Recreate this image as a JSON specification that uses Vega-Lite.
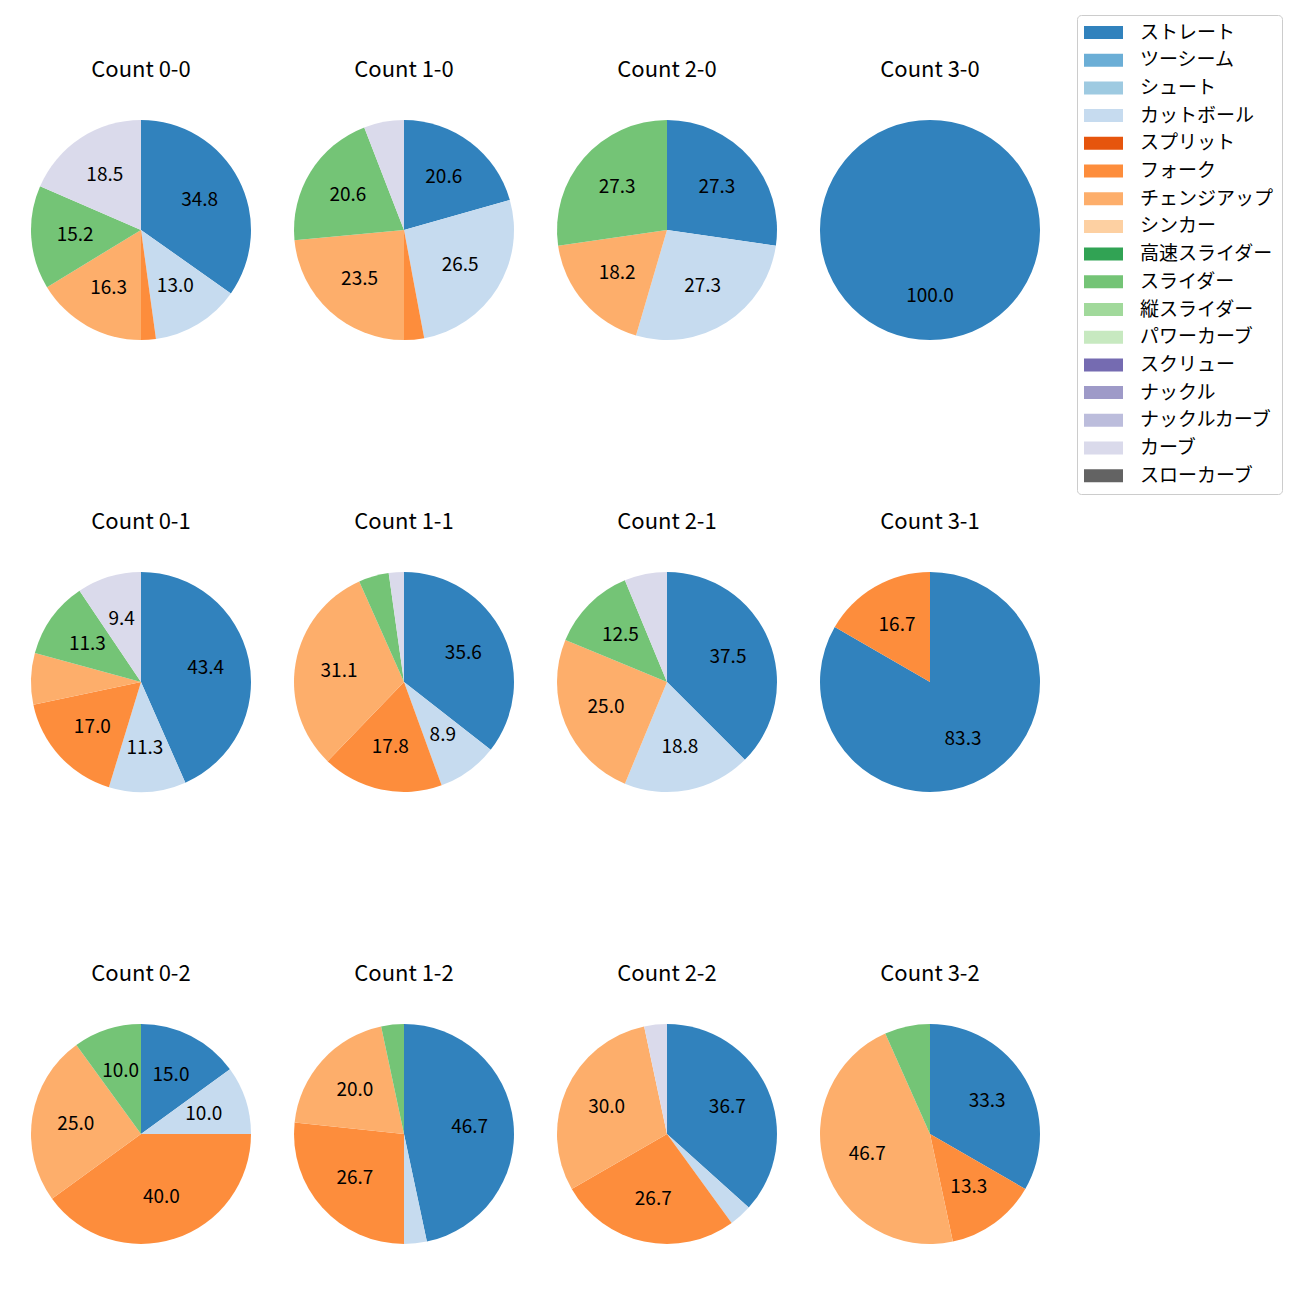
{
  "$schema": "https://vega.github.io/schema/vega-lite/v6.json",
  "padding": {"left": 31, "top": 14, "right": 5, "bottom": 5},
  "background": "white",
  "config": {"view": {"stroke": null}, "font": "Noto Sans CJK JP"},
  "data": {"values": [
    {"count": "Count 0-0", "pitch": "ストレート", "ord": 0, "n": 32, "pct": 34.8},
    {"count": "Count 0-0", "pitch": "カットボール", "ord": 3, "n": 12, "pct": 13.0},
    {"count": "Count 0-0", "pitch": "フォーク", "ord": 5, "n": 2, "pct": 2.2},
    {"count": "Count 0-0", "pitch": "チェンジアップ", "ord": 6, "n": 15, "pct": 16.3},
    {"count": "Count 0-0", "pitch": "スライダー", "ord": 9, "n": 14, "pct": 15.2},
    {"count": "Count 0-0", "pitch": "カーブ", "ord": 15, "n": 17, "pct": 18.5},
    {"count": "Count 1-0", "pitch": "ストレート", "ord": 0, "n": 7, "pct": 20.6},
    {"count": "Count 1-0", "pitch": "カットボール", "ord": 3, "n": 9, "pct": 26.5},
    {"count": "Count 1-0", "pitch": "フォーク", "ord": 5, "n": 1, "pct": 2.9},
    {"count": "Count 1-0", "pitch": "チェンジアップ", "ord": 6, "n": 8, "pct": 23.5},
    {"count": "Count 1-0", "pitch": "スライダー", "ord": 9, "n": 7, "pct": 20.6},
    {"count": "Count 1-0", "pitch": "カーブ", "ord": 15, "n": 2, "pct": 5.9},
    {"count": "Count 2-0", "pitch": "ストレート", "ord": 0, "n": 3, "pct": 27.3},
    {"count": "Count 2-0", "pitch": "カットボール", "ord": 3, "n": 3, "pct": 27.3},
    {"count": "Count 2-0", "pitch": "チェンジアップ", "ord": 6, "n": 2, "pct": 18.2},
    {"count": "Count 2-0", "pitch": "スライダー", "ord": 9, "n": 3, "pct": 27.3},
    {"count": "Count 3-0", "pitch": "ストレート", "ord": 0, "n": 1, "pct": 100.0},
    {"count": "Count 0-1", "pitch": "ストレート", "ord": 0, "n": 23, "pct": 43.4},
    {"count": "Count 0-1", "pitch": "カットボール", "ord": 3, "n": 6, "pct": 11.3},
    {"count": "Count 0-1", "pitch": "フォーク", "ord": 5, "n": 9, "pct": 17.0},
    {"count": "Count 0-1", "pitch": "チェンジアップ", "ord": 6, "n": 4, "pct": 7.5},
    {"count": "Count 0-1", "pitch": "スライダー", "ord": 9, "n": 6, "pct": 11.3},
    {"count": "Count 0-1", "pitch": "カーブ", "ord": 15, "n": 5, "pct": 9.4},
    {"count": "Count 1-1", "pitch": "ストレート", "ord": 0, "n": 16, "pct": 35.6},
    {"count": "Count 1-1", "pitch": "カットボール", "ord": 3, "n": 4, "pct": 8.9},
    {"count": "Count 1-1", "pitch": "フォーク", "ord": 5, "n": 8, "pct": 17.8},
    {"count": "Count 1-1", "pitch": "チェンジアップ", "ord": 6, "n": 14, "pct": 31.1},
    {"count": "Count 1-1", "pitch": "スライダー", "ord": 9, "n": 2, "pct": 4.4},
    {"count": "Count 1-1", "pitch": "カーブ", "ord": 15, "n": 1, "pct": 2.2},
    {"count": "Count 2-1", "pitch": "ストレート", "ord": 0, "n": 6, "pct": 37.5},
    {"count": "Count 2-1", "pitch": "カットボール", "ord": 3, "n": 3, "pct": 18.8},
    {"count": "Count 2-1", "pitch": "チェンジアップ", "ord": 6, "n": 4, "pct": 25.0},
    {"count": "Count 2-1", "pitch": "スライダー", "ord": 9, "n": 2, "pct": 12.5},
    {"count": "Count 2-1", "pitch": "カーブ", "ord": 15, "n": 1, "pct": 6.3},
    {"count": "Count 3-1", "pitch": "ストレート", "ord": 0, "n": 5, "pct": 83.3},
    {"count": "Count 3-1", "pitch": "フォーク", "ord": 5, "n": 1, "pct": 16.7},
    {"count": "Count 0-2", "pitch": "ストレート", "ord": 0, "n": 3, "pct": 15.0},
    {"count": "Count 0-2", "pitch": "カットボール", "ord": 3, "n": 2, "pct": 10.0},
    {"count": "Count 0-2", "pitch": "フォーク", "ord": 5, "n": 8, "pct": 40.0},
    {"count": "Count 0-2", "pitch": "チェンジアップ", "ord": 6, "n": 5, "pct": 25.0},
    {"count": "Count 0-2", "pitch": "スライダー", "ord": 9, "n": 2, "pct": 10.0},
    {"count": "Count 1-2", "pitch": "ストレート", "ord": 0, "n": 14, "pct": 46.7},
    {"count": "Count 1-2", "pitch": "カットボール", "ord": 3, "n": 1, "pct": 3.3},
    {"count": "Count 1-2", "pitch": "フォーク", "ord": 5, "n": 8, "pct": 26.7},
    {"count": "Count 1-2", "pitch": "チェンジアップ", "ord": 6, "n": 6, "pct": 20.0},
    {"count": "Count 1-2", "pitch": "スライダー", "ord": 9, "n": 1, "pct": 3.3},
    {"count": "Count 2-2", "pitch": "ストレート", "ord": 0, "n": 11, "pct": 36.7},
    {"count": "Count 2-2", "pitch": "カットボール", "ord": 3, "n": 1, "pct": 3.3},
    {"count": "Count 2-2", "pitch": "フォーク", "ord": 5, "n": 8, "pct": 26.7},
    {"count": "Count 2-2", "pitch": "チェンジアップ", "ord": 6, "n": 9, "pct": 30.0},
    {"count": "Count 2-2", "pitch": "カーブ", "ord": 15, "n": 1, "pct": 3.3},
    {"count": "Count 3-2", "pitch": "ストレート", "ord": 0, "n": 5, "pct": 33.3},
    {"count": "Count 3-2", "pitch": "フォーク", "ord": 5, "n": 2, "pct": 13.3},
    {"count": "Count 3-2", "pitch": "チェンジアップ", "ord": 6, "n": 7, "pct": 46.7},
    {"count": "Count 3-2", "pitch": "スライダー", "ord": 9, "n": 1, "pct": 6.7}
  ]},
  "facet": {
    "field": "count", "type": "nominal",
    "sort": ["Count 0-0", "Count 1-0", "Count 2-0", "Count 3-0", "Count 0-1", "Count 1-1", "Count 2-1", "Count 3-1", "Count 0-2", "Count 1-2", "Count 2-2", "Count 3-2"],
    "header": {"title": null, "labelFont": "Noto Sans CJK JP", "labelFontSize": 22, "labelColor": "black", "labelPadding": 38}
  },
  "columns": 4,
  "spacing": {"row": 171, "column": 43},
  "resolve": {"scale": {"theta": "independent"}},
  "spec": {
    "width": 220,
    "height": 220,
    "encoding": {
      "theta": {"field": "n", "type": "quantitative", "stack": true},
      "order": {"field": "ord", "type": "quantitative"}
    },
    "layer": [
      {
        "mark": {"type": "arc", "outerRadius": 110},
        "encoding": {
          "color": {
            "field": "pitch", "type": "nominal",
            "scale": {
              "domain": ["ストレート", "ツーシーム", "シュート", "カットボール", "スプリット", "フォーク", "チェンジアップ", "シンカー", "高速スライダー", "スライダー", "縦スライダー", "パワーカーブ", "スクリュー", "ナックル", "ナックルカーブ", "カーブ", "スローカーブ"],
              "range": ["#3182bd", "#6baed6", "#9ecae1", "#c6dbef", "#e6550d", "#fd8d3c", "#fdae6b", "#fdd0a2", "#31a354", "#74c476", "#a1d99b", "#c7e9c0", "#756bb1", "#9e9ac8", "#bcbddc", "#dadaeb", "#636363"]
            },
            "legend": {
              "title": null,
              "orient": "none",
              "legendX": 1046,
              "legendY": -105,
              "labelFont": "Noto Sans CJK JP",
              "labelFontSize": 19,
              "labelColor": "black",
              "labelOffset": 27,
              "labelLimit": 300,
              "symbolType": "M-3,-1H3V1H-3Z",
              "symbolSize": 169,
              "symbolOffset": 9,
              "symbolStrokeWidth": 0,
              "rowPadding": 7.7,
              "padding": 8,
              "strokeColor": "#cccccc",
              "cornerRadius": 4,
              "fillColor": "white"
            }
          }
        }
      },
      {
        "mark": {"type": "text", "radius": 66, "font": "Noto Sans CJK JP", "fontSize": 19, "color": "black"},
        "encoding": {
          "text": {"condition": {"test": "datum.pct < 8", "value": ""}, "field": "pct", "type": "quantitative", "format": ".1f"}
        }
      }
    ]
  }
}
